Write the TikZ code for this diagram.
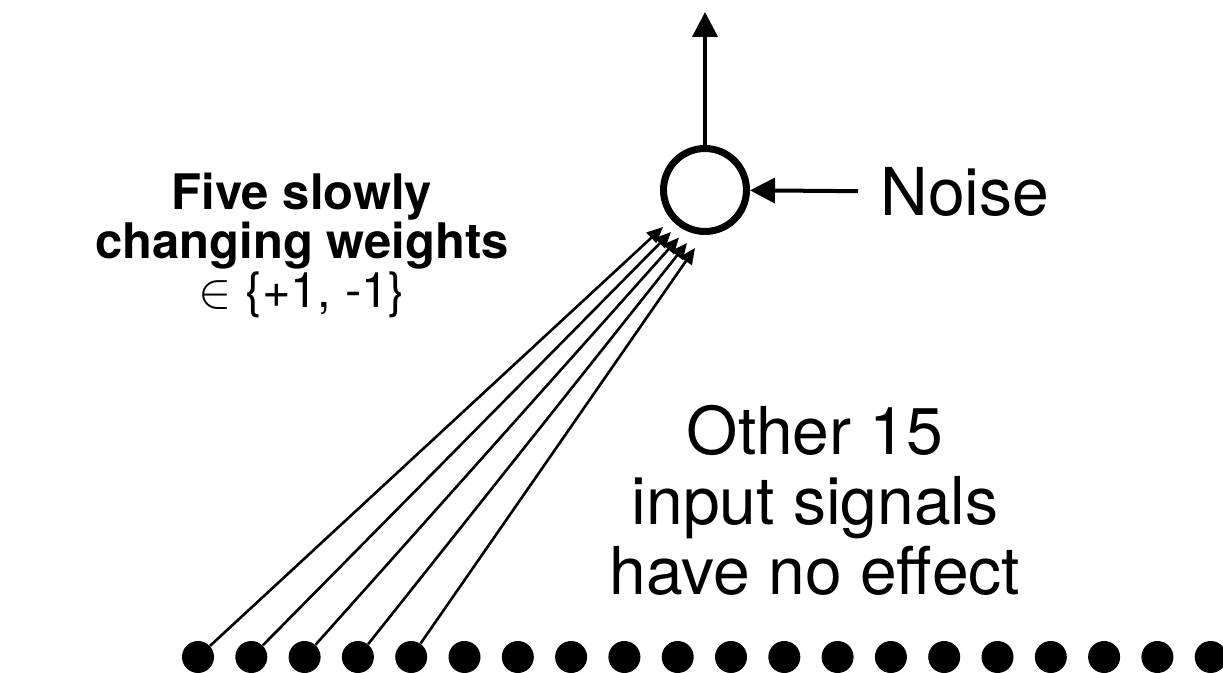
\documentclass[tikz,border=0pt]{standalone}
\usepackage{fontspec}
\setmainfont{TeX Gyre Heros}
\usepackage{tikz}
\usetikzlibrary{arrows.meta}

\begin{document}
\begin{tikzpicture}[
  x=0.5pt, y=-0.5pt,
  unit/.style={draw, circle, line width=3.5pt, inner sep=0pt, minimum size=41.5pt},
  dot/.style={circle, fill, inner sep=0pt, minimum size=16pt},
  arr/.style={-{Triangle[length=12.5pt,width=12.5pt]}, line width=2pt},
  warr/.style={-{Triangle[length=8pt,width=7pt]}, line width=1.3pt},
  lbl/.style={font=\fontsize{33}{35}\selectfont, align=center},
  blbl/.style={font=\bfseries\fontsize{24.5}{24.5}\selectfont, align=center}
]
\useasboundingbox (0,0) rectangle (1223,673);
\node[unit] (sum) at (705,190) {};
\coordinate (out) at (705,12);
\draw[arr] (sum) -- (out);
\node[lbl, inner sep=0pt, anchor=west] (noise) at (880,192) {Noise};
\draw[arr, shorten <=11pt] (noise) -- (sum);

\node[blbl] (five) at (302,245) {Five slowly\\changing weights\\{\mdseries $\in$ \{+1, -1\}}};
\node[lbl] (other) at (815,500) {Other 15\\input signals\\have no effect};

% input signals
\foreach \i in {1,...,20}
  \node[dot] (d\i) at ({198+53.3*(\i-1)},657) {};
\foreach \i/\tx/\ty in {1/663/227, 2/671/232, 3/679/237.5, 4/687/243, 5/695/248}
  \coordinate (w\i) at (\tx,\ty);
\foreach \i in {1,...,5}
  \draw[warr] (d\i) -- (w\i);
\end{tikzpicture}
\end{document}
